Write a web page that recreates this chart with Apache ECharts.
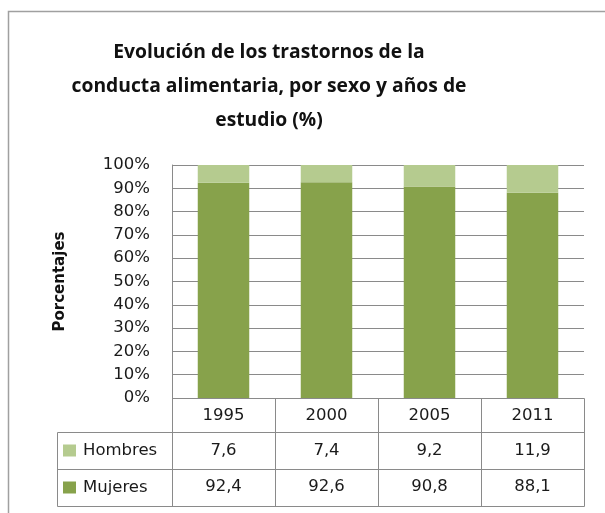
<!DOCTYPE html>
<html>
<head>
<meta charset="utf-8">
<script src="https://cdn.jsdelivr.net/npm/echarts@6/dist/echarts.min.js"></script>
<style>html,body{margin:0;padding:0;background:#fff;}#c{width:605px;height:513px;}</style>
</head>
<body>
<div id="c"></div>
<script>
const years = ['1995', '2000', '2005', '2011'];
const hombres = [7.6, 7.4, 9.2, 11.9];
const mujeres = [92.4, 92.6, 90.8, 88.1];
const yTicks = ['0%', '10%', '20%', '30%', '40%', '50%', '60%', '70%', '80%', '90%', '100%'];
const seriesNames = ['Hombres', 'Mujeres'];
const titleText = 'Evolución de los trastornos de la\nconducta alimentaria, por sexo y años de\nestudio (%)';
const yName = 'Porcentajes';

const FONT = 'DejaVu Sans';
const TFONT = 'Open Sans';
const FS = 16.5;
const cLight = '#b5cb8f';
const cDark = '#87a24b';
const lineC = '#8a8a8a';
const fmt = v => String(v).replace('.', ',');

const chart = echarts.init(document.getElementById('c'), null, {renderer: 'canvas'});
const G = {left: 172, top: 165, right: 21, bottom: 115};

function tableAxis(idx, offset, labels) {
  return {
    type: 'category', data: years, position: 'bottom', offset: offset,
    axisLine: {show: false}, axisTick: {show: false},
    axisLabel: {margin: 9, fontFamily: FONT, fontSize: FS, color: '#1a1a1a',
      formatter: (v, i) => labels[i]}
  };
}

chart.setOption({
  animation: false,
  textStyle: {fontFamily: FONT},
  title: {
    text: titleText, left: 264, top: 31, textAlign: 'center',
    textStyle: {fontFamily: TFONT, fontSize: 19.3, fontWeight: 'bold', color: '#111', lineHeight: 34}
  },
  grid: G,
  legend: {
    orient: 'vertical', left: 63, top: 442, padding: 0, itemWidth: 13, itemHeight: 12, itemGap: 20,
    icon: 'rect', data: seriesNames,
    textStyle: {fontFamily: FONT, fontSize: FS, color: '#1a1a1a', padding: [0, 0, 0, 2]}
  },
  xAxis: [
    tableAxis(0, 0, years),
    tableAxis(1, 35, hombres.map(fmt)),
    tableAxis(2, 71, mujeres.map(fmt))
  ],
  yAxis: {
    type: 'value', min: 0, max: 100, interval: 10,
    name: yName, nameLocation: 'middle', nameGap: 104,
    nameTextStyle: {fontFamily: FONT, fontSize: 15, fontWeight: 'bold', color: '#111'},
    axisLine: {show: true, lineStyle: {color: lineC, width: 1}},
    axisTick: {show: false},
    axisLabel: {margin: 22, fontFamily: FONT, fontSize: FS, color: '#1a1a1a',
      formatter: v => yTicks[Math.round(v / 10)]},
    splitLine: {lineStyle: {color: lineC, width: 1}}
  },
  series: [
    {name: 'Mujeres', type: 'bar', stack: 's', data: mujeres, barWidth: '50%',
      itemStyle: {color: cDark}},
    {name: 'Hombres', type: 'bar', stack: 's', data: hombres, barWidth: '50%',
      itemStyle: {color: cLight}}
  ]
});

// Table grid lines derived from the category axis
function drawTable() {
  const n = years.length;
  const x0 = chart.convertToPixel({xAxisIndex: 0}, 0);
  const x1 = chart.convertToPixel({xAxisIndex: 0}, 1);
  const bw = x1 - x0;
  const left = x0 - bw / 2;
  const right = left + bw * n;
  const y0 = chart.convertToPixel({yAxisIndex: 0}, 0);
  const rowH = [34, 37, 37];
  const yRow1 = y0 + rowH[0];
  const yRow2 = yRow1 + rowH[1];
  const yRow3 = yRow2 + rowH[2];
  const labLeft = 57;
  const st = {stroke: lineC, lineWidth: 1};
  const els = [];
  const L = (a, b, c, d) => els.push({type: 'line', silent: true, z: 10,
    shape: {x1: Math.round(a) + 0.5, y1: Math.round(b) + 0.5, x2: Math.round(c) + 0.5, y2: Math.round(d) + 0.5}, style: st});
  L(left, y0, right, y0);
  L(labLeft, yRow1, right, yRow1);
  L(labLeft, yRow2, right, yRow2);
  L(labLeft, yRow3, right, yRow3);
  for (let i = 0; i <= n; i++) L(left + bw * i, y0, left + bw * i, yRow3);
  L(labLeft, yRow1, labLeft, yRow3);
  // outer chart border
  els.push({type: 'rect', silent: true, shape: {x: 8.5, y: 11.5, width: 700, height: 600},
    style: {fill: 'none', stroke: '#a0a0a0', lineWidth: 1.5}});
  chart.setOption({graphic: els});
}
drawTable();
</script>
</body>
</html>
